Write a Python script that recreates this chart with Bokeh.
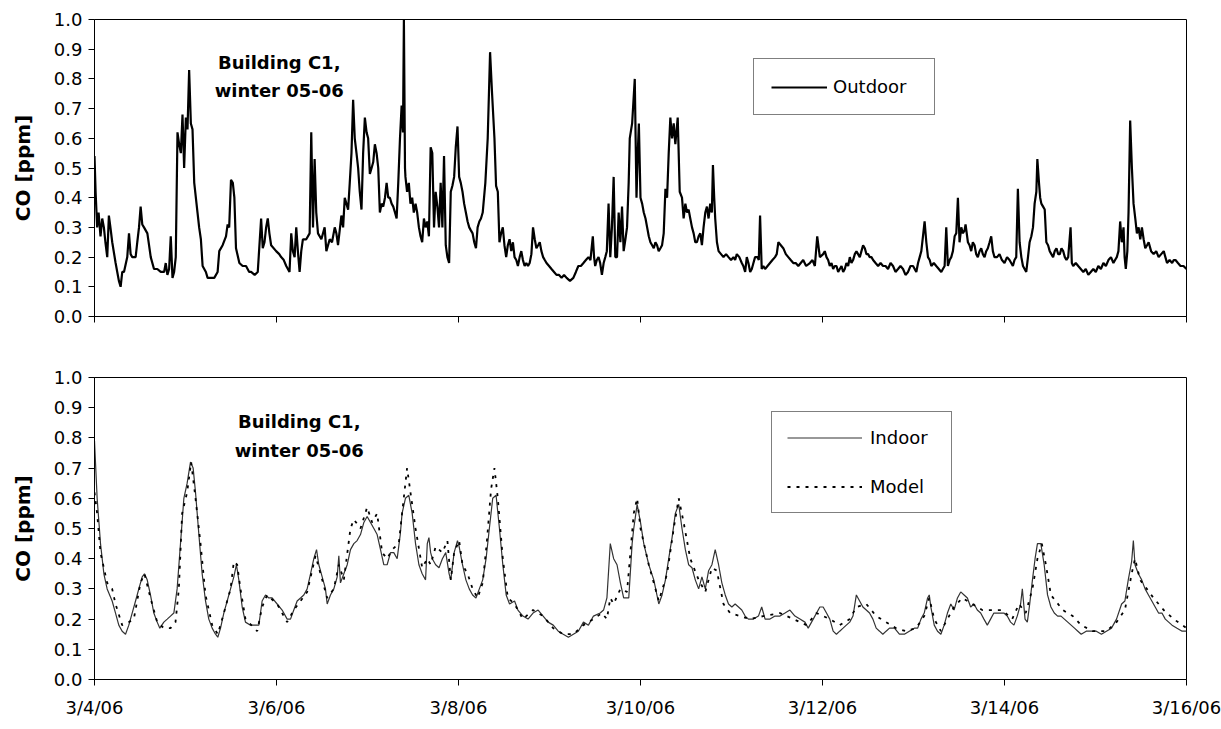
from bokeh.plotting import figure
from bokeh.models import (Range1d, FixedTicker, Legend, LegendItem, Label, PrintfTickFormatter,
                          CustomJSTickFormatter)
from bokeh.layouts import column
from bokeh.embed import file_html
from bokeh.resources import INLINE

FONT = "DejaVu Sans"

# x in days since 3/4/06 00:00
tick_days = [0, 2, 4, 6, 8, 10, 12]
tick_labels = ["3/4/06", "3/6/06", "3/8/06", "3/10/06", "3/12/06", "3/14/06", "3/16/06"]
y_ticks = [0.0, 0.1, 0.2, 0.3, 0.4, 0.5, 0.6, 0.7, 0.8, 0.9, 1.0]

outdoor = [
    (0.0, 0.54), (0.012, 0.42), (0.029, 0.30), (0.045, 0.35), (0.066, 0.27), (0.085, 0.33), (0.103, 0.30),
    (0.120, 0.25), (0.140, 0.20), (0.158, 0.34), (0.175, 0.30), (0.195, 0.25), (0.232, 0.18), (0.250, 0.15),
    (0.268, 0.12), (0.287, 0.10), (0.305, 0.15), (0.324, 0.15), (0.360, 0.20), (0.379, 0.28), (0.397, 0.21),
    (0.415, 0.20), (0.452, 0.20), (0.470, 0.25), (0.489, 0.30), (0.507, 0.37), (0.525, 0.31), (0.544, 0.30),
    (0.581, 0.28), (0.618, 0.20), (0.654, 0.16), (0.690, 0.16), (0.728, 0.15), (0.765, 0.15), (0.783, 0.18),
    (0.801, 0.14), (0.820, 0.16), (0.838, 0.27), (0.857, 0.13), (0.875, 0.15), (0.893, 0.20), (0.912, 0.62),
    (0.930, 0.58), (0.949, 0.55), (0.967, 0.68), (0.985, 0.50), (1.004, 0.67), (1.022, 0.63), (1.040, 0.83),
    (1.059, 0.65), (1.077, 0.63), (1.096, 0.45), (1.132, 0.35), (1.150, 0.30), (1.169, 0.26), (1.188, 0.17),
    (1.224, 0.15), (1.243, 0.13), (1.280, 0.13), (1.316, 0.13), (1.353, 0.15), (1.371, 0.22), (1.408, 0.24),
    (1.445, 0.27), (1.463, 0.31), (1.480, 0.30), (1.500, 0.46), (1.520, 0.45), (1.537, 0.40), (1.555, 0.23),
    (1.592, 0.18), (1.628, 0.17), (1.665, 0.17), (1.700, 0.15), (1.721, 0.15), (1.760, 0.14), (1.794, 0.15),
    (1.831, 0.33), (1.849, 0.23), (1.868, 0.25), (1.886, 0.30), (1.904, 0.33), (1.922, 0.28), (1.941, 0.24),
    (1.996, 0.22), (2.030, 0.21), (2.051, 0.20), (2.080, 0.19), (2.107, 0.17), (2.143, 0.15), (2.162, 0.28),
    (2.180, 0.22), (2.199, 0.20), (2.217, 0.30), (2.235, 0.22), (2.254, 0.15), (2.272, 0.22), (2.290, 0.26),
    (2.327, 0.26), (2.364, 0.28), (2.382, 0.62), (2.401, 0.30), (2.419, 0.53), (2.437, 0.35), (2.456, 0.28),
    (2.493, 0.26), (2.529, 0.30), (2.548, 0.22), (2.585, 0.26), (2.610, 0.25), (2.640, 0.30), (2.658, 0.28),
    (2.676, 0.24), (2.713, 0.34), (2.732, 0.30), (2.750, 0.40), (2.768, 0.38), (2.787, 0.36), (2.805, 0.45),
    (2.824, 0.55), (2.842, 0.73), (2.860, 0.60), (2.879, 0.55), (2.897, 0.50), (2.915, 0.42), (2.934, 0.36),
    (2.952, 0.55), (2.971, 0.67), (2.990, 0.62), (3.007, 0.60), (3.026, 0.48), (3.045, 0.50), (3.063, 0.52),
    (3.081, 0.58), (3.100, 0.55), (3.118, 0.50), (3.136, 0.35), (3.155, 0.38), (3.173, 0.37), (3.192, 0.40),
    (3.210, 0.45), (3.228, 0.40), (3.246, 0.40), (3.265, 0.38), (3.283, 0.37), (3.302, 0.35), (3.320, 0.33),
    (3.338, 0.45), (3.357, 0.60), (3.375, 0.71), (3.390, 0.62), (3.400, 1.00), (3.412, 0.50),
    (3.417, 0.47), (3.435, 0.42), (3.454, 0.45), (3.472, 0.38), (3.491, 0.40), (3.509, 0.35), (3.528, 0.38),
    (3.546, 0.35), (3.565, 0.30), (3.583, 0.27), (3.601, 0.25), (3.620, 0.33), (3.638, 0.30), (3.657, 0.32),
    (3.675, 0.27), (3.694, 0.57), (3.712, 0.55), (3.731, 0.30), (3.749, 0.42), (3.768, 0.37), (3.786, 0.30),
    (3.804, 0.45), (3.823, 0.30), (3.841, 0.54), (3.860, 0.24), (3.878, 0.20), (3.897, 0.18), (3.915, 0.42),
    (3.933, 0.44), (3.952, 0.47), (3.970, 0.57), (3.989, 0.64), (4.007, 0.47), (4.025, 0.45), (4.044, 0.42),
    (4.062, 0.38), (4.081, 0.35), (4.100, 0.32), (4.118, 0.30), (4.136, 0.29), (4.155, 0.28), (4.173, 0.25),
    (4.192, 0.23), (4.210, 0.30), (4.229, 0.32), (4.247, 0.33), (4.266, 0.35), (4.295, 0.45), (4.321, 0.60),
    (4.347, 0.89), (4.369, 0.75), (4.395, 0.60), (4.413, 0.44), (4.432, 0.42), (4.450, 0.25), (4.468, 0.28),
    (4.487, 0.30), (4.505, 0.24), (4.524, 0.20), (4.542, 0.24), (4.561, 0.26), (4.580, 0.22), (4.598, 0.25),
    (4.616, 0.20), (4.635, 0.19), (4.653, 0.17), (4.672, 0.20), (4.690, 0.22), (4.708, 0.19), (4.727, 0.17),
    (4.745, 0.18), (4.764, 0.17), (4.782, 0.18), (4.801, 0.21), (4.819, 0.30), (4.838, 0.26), (4.856, 0.23),
    (4.875, 0.24), (4.893, 0.25), (4.911, 0.22), (4.930, 0.20), (4.948, 0.19), (4.967, 0.18), (4.995, 0.17),
    (5.022, 0.16), (5.050, 0.15), (5.077, 0.14), (5.105, 0.14), (5.133, 0.13), (5.160, 0.14), (5.188, 0.13),
    (5.225, 0.12), (5.262, 0.13), (5.290, 0.15), (5.317, 0.17), (5.345, 0.17), (5.373, 0.18), (5.400, 0.19),
    (5.428, 0.20), (5.450, 0.19), (5.476, 0.27), (5.490, 0.20), (5.502, 0.17), (5.520, 0.19), (5.539, 0.20),
    (5.557, 0.18), (5.576, 0.14), (5.595, 0.18), (5.613, 0.20), (5.630, 0.22), (5.649, 0.38), (5.668, 0.20),
    (5.686, 0.30), (5.705, 0.47), (5.723, 0.20), (5.742, 0.20), (5.760, 0.35), (5.779, 0.25), (5.797, 0.37),
    (5.815, 0.22), (5.834, 0.26), (5.852, 0.30), (5.870, 0.45), (5.882, 0.60), (5.908, 0.65), (5.937, 0.80),
    (5.956, 0.40), (5.970, 0.55), (5.982, 0.65), (6.000, 0.40), (6.018, 0.38), (6.036, 0.35), (6.055, 0.33),
    (6.073, 0.30), (6.091, 0.27), (6.109, 0.25), (6.128, 0.24), (6.146, 0.23), (6.164, 0.25), (6.182, 0.24),
    (6.200, 0.22), (6.219, 0.23), (6.237, 0.24), (6.255, 0.28), (6.274, 0.43), (6.292, 0.40), (6.310, 0.55),
    (6.328, 0.67), (6.347, 0.60), (6.365, 0.65), (6.383, 0.58), (6.409, 0.67), (6.431, 0.42), (6.456, 0.40),
    (6.474, 0.33), (6.493, 0.38), (6.511, 0.35), (6.529, 0.36), (6.547, 0.33), (6.566, 0.30), (6.584, 0.28),
    (6.602, 0.25), (6.620, 0.25), (6.639, 0.27), (6.657, 0.28), (6.675, 0.24), (6.693, 0.30), (6.712, 0.35),
    (6.730, 0.37), (6.748, 0.33), (6.766, 0.38), (6.784, 0.35), (6.796, 0.51), (6.810, 0.40), (6.821, 0.33),
    (6.840, 0.25), (6.858, 0.22), (6.885, 0.21), (6.912, 0.20), (6.940, 0.21), (6.967, 0.20), (6.995, 0.19),
    (7.022, 0.20), (7.040, 0.19), (7.058, 0.21), (7.086, 0.20), (7.113, 0.18), (7.130, 0.17), (7.150, 0.15),
    (7.168, 0.20), (7.186, 0.18), (7.205, 0.15), (7.223, 0.16), (7.241, 0.18), (7.259, 0.20), (7.285, 0.20),
    (7.300, 0.19), (7.314, 0.34), (7.332, 0.16), (7.350, 0.17), (7.369, 0.16), (7.396, 0.17), (7.423, 0.18),
    (7.450, 0.19), (7.478, 0.20), (7.497, 0.21), (7.515, 0.25), (7.542, 0.24), (7.569, 0.23), (7.597, 0.21),
    (7.624, 0.20), (7.651, 0.19), (7.679, 0.18), (7.706, 0.18), (7.734, 0.17), (7.761, 0.18), (7.788, 0.19),
    (7.820, 0.17), (7.861, 0.18), (7.890, 0.19), (7.916, 0.17), (7.942, 0.27), (7.971, 0.20),
    (8.007, 0.21), (8.025, 0.22), (8.044, 0.20), (8.062, 0.19), (8.080, 0.17), (8.099, 0.18), (8.117, 0.16),
    (8.135, 0.17), (8.154, 0.17), (8.172, 0.15), (8.190, 0.16), (8.209, 0.17), (8.227, 0.15), (8.245, 0.16),
    (8.263, 0.18), (8.282, 0.17), (8.300, 0.20), (8.318, 0.18), (8.336, 0.19), (8.355, 0.21), (8.373, 0.22),
    (8.391, 0.21), (8.410, 0.20), (8.428, 0.22), (8.446, 0.24), (8.465, 0.23), (8.483, 0.21), (8.501, 0.21),
    (8.519, 0.20), (8.538, 0.20), (8.556, 0.19), (8.583, 0.18), (8.611, 0.17), (8.638, 0.18), (8.665, 0.17),
    (8.693, 0.17), (8.720, 0.16), (8.748, 0.18), (8.775, 0.17), (8.802, 0.15), (8.830, 0.16), (8.857, 0.17),
    (8.885, 0.16), (8.912, 0.14), (8.940, 0.15), (8.967, 0.17), (8.995, 0.17), (9.013, 0.16), (9.031, 0.15),
    (9.050, 0.18), (9.068, 0.20), (9.086, 0.22), (9.104, 0.27), (9.122, 0.32), (9.141, 0.25), (9.159, 0.20),
    (9.178, 0.19), (9.196, 0.17), (9.223, 0.18), (9.250, 0.17), (9.278, 0.16), (9.305, 0.15), (9.323, 0.16),
    (9.342, 0.17), (9.360, 0.30), (9.378, 0.17), (9.397, 0.19), (9.415, 0.20), (9.433, 0.22), (9.452, 0.27),
    (9.470, 0.28), (9.488, 0.40), (9.506, 0.25), (9.525, 0.30), (9.543, 0.28), (9.561, 0.29), (9.572, 0.31),
    (9.598, 0.25), (9.616, 0.24), (9.634, 0.22), (9.652, 0.25), (9.671, 0.24), (9.689, 0.21), (9.707, 0.20),
    (9.726, 0.22), (9.744, 0.23), (9.762, 0.21), (9.781, 0.20), (9.799, 0.22), (9.817, 0.23), (9.836, 0.25),
    (9.854, 0.27), (9.872, 0.22), (9.890, 0.20), (9.918, 0.20), (9.945, 0.21), (9.972, 0.19), (10.000, 0.18),
    (10.028, 0.20), (10.055, 0.19), (10.074, 0.18), (10.092, 0.17), (10.110, 0.19), (10.129, 0.20),
    (10.147, 0.43), (10.166, 0.25), (10.185, 0.20), (10.203, 0.17), (10.221, 0.16), (10.239, 0.15),
    (10.258, 0.20), (10.276, 0.25), (10.295, 0.27), (10.313, 0.30), (10.331, 0.38), (10.350, 0.42),
    (10.361, 0.53), (10.379, 0.45), (10.392, 0.40), (10.405, 0.38), (10.424, 0.37), (10.442, 0.36),
    (10.460, 0.25), (10.479, 0.24), (10.497, 0.22), (10.515, 0.21), (10.534, 0.20), (10.552, 0.22),
    (10.571, 0.23), (10.590, 0.21), (10.608, 0.21), (10.626, 0.23), (10.645, 0.22), (10.663, 0.20),
    (10.681, 0.19), (10.700, 0.20), (10.726, 0.30), (10.740, 0.18), (10.755, 0.17), (10.783, 0.18),
    (10.810, 0.17), (10.838, 0.16), (10.866, 0.15), (10.893, 0.16), (10.921, 0.14), (10.948, 0.15),
    (10.976, 0.16), (11.003, 0.15), (11.031, 0.17), (11.059, 0.16), (11.087, 0.18), (11.114, 0.17),
    (11.142, 0.19), (11.170, 0.20), (11.197, 0.18), (11.215, 0.19), (11.234, 0.20), (11.252, 0.22),
    (11.271, 0.32), (11.289, 0.25), (11.308, 0.30), (11.320, 0.20), (11.333, 0.16), (11.350, 0.22),
    (11.363, 0.35), (11.381, 0.66), (11.400, 0.50), (11.418, 0.38), (11.437, 0.33), (11.455, 0.28),
    (11.474, 0.30), (11.492, 0.26), (11.510, 0.30), (11.529, 0.26), (11.547, 0.23), (11.566, 0.24),
    (11.584, 0.25), (11.611, 0.22), (11.639, 0.21), (11.667, 0.22), (11.694, 0.20), (11.722, 0.21),
    (11.750, 0.22), (11.768, 0.20), (11.786, 0.18), (11.814, 0.19), (11.842, 0.18), (11.860, 0.19),
    (11.879, 0.19), (11.906, 0.18), (11.934, 0.17), (11.967, 0.17), (12.000, 0.16),
]

indoor = [
    (0.000, 0.79), (0.029, 0.60), (0.066, 0.45), (0.103, 0.35), (0.139, 0.30), (0.194, 0.26), (0.231, 0.22),
    (0.267, 0.18), (0.304, 0.16), (0.341, 0.15), (0.377, 0.18), (0.414, 0.22), (0.451, 0.26), (0.487, 0.30),
    (0.524, 0.34), (0.549, 0.35), (0.579, 0.33), (0.615, 0.28), (0.652, 0.22), (0.689, 0.19), (0.718, 0.17),
    (0.762, 0.19), (0.799, 0.20), (0.835, 0.21), (0.872, 0.22), (0.908, 0.30), (0.945, 0.45), (0.982, 0.60),
    (1.018, 0.65), (1.055, 0.72), (1.084, 0.70), (1.110, 0.62), (1.147, 0.48), (1.183, 0.35), (1.220, 0.26),
    (1.256, 0.20), (1.293, 0.17), (1.330, 0.15), (1.355, 0.14), (1.385, 0.17), (1.421, 0.22), (1.458, 0.26),
    (1.495, 0.30), (1.531, 0.34), (1.560, 0.38), (1.586, 0.33), (1.623, 0.24), (1.659, 0.19), (1.714, 0.18),
    (1.769, 0.18), (1.806, 0.18), (1.842, 0.26), (1.879, 0.28), (1.916, 0.27), (1.952, 0.27), (2.007, 0.25),
    (2.062, 0.23), (2.117, 0.20), (2.154, 0.20), (2.190, 0.23), (2.227, 0.26), (2.264, 0.27), (2.300, 0.28),
    (2.337, 0.30), (2.374, 0.35), (2.410, 0.40), (2.440, 0.43), (2.465, 0.38), (2.502, 0.34), (2.538, 0.30),
    (2.557, 0.25), (2.593, 0.28), (2.630, 0.30), (2.667, 0.34), (2.685, 0.41), (2.703, 0.32), (2.740, 0.35),
    (2.777, 0.38), (2.813, 0.43), (2.850, 0.45), (2.886, 0.46), (2.923, 0.48), (2.960, 0.52), (2.996, 0.54),
    (3.033, 0.52), (3.070, 0.50), (3.106, 0.48), (3.143, 0.43), (3.179, 0.38), (3.216, 0.38), (3.253, 0.42),
    (3.289, 0.42), (3.326, 0.40), (3.360, 0.48), (3.380, 0.55), (3.417, 0.60), (3.454, 0.61), (3.491, 0.55),
    (3.528, 0.45), (3.565, 0.38), (3.601, 0.35), (3.638, 0.33), (3.657, 0.45), (3.675, 0.47), (3.694, 0.42),
    (3.712, 0.40), (3.749, 0.38), (3.786, 0.37), (3.823, 0.40), (3.860, 0.42), (3.897, 0.35), (3.915, 0.33),
    (3.952, 0.42), (3.989, 0.46), (4.007, 0.44), (4.044, 0.38), (4.081, 0.33), (4.118, 0.30), (4.155, 0.28),
    (4.192, 0.27), (4.229, 0.30), (4.266, 0.33), (4.303, 0.40), (4.339, 0.50), (4.376, 0.60), (4.413, 0.61),
    (4.450, 0.50), (4.487, 0.38), (4.524, 0.28), (4.561, 0.25), (4.616, 0.26), (4.653, 0.23), (4.708, 0.21),
    (4.764, 0.20), (4.819, 0.22), (4.875, 0.23), (4.930, 0.21), (4.985, 0.19), (5.041, 0.18), (5.096, 0.16),
    (5.151, 0.15), (5.207, 0.14), (5.262, 0.15), (5.317, 0.16), (5.373, 0.19), (5.428, 0.18), (5.483, 0.21),
    (5.557, 0.22), (5.594, 0.23), (5.631, 0.27), (5.668, 0.45), (5.705, 0.40), (5.742, 0.38), (5.779, 0.32),
    (5.815, 0.27), (5.871, 0.27), (5.908, 0.45), (5.926, 0.50), (5.963, 0.58), (6.000, 0.52), (6.036, 0.45),
    (6.091, 0.38), (6.146, 0.33), (6.201, 0.25), (6.237, 0.28), (6.274, 0.33), (6.310, 0.40), (6.347, 0.47),
    (6.383, 0.55), (6.420, 0.58), (6.456, 0.50), (6.493, 0.43), (6.529, 0.38), (6.566, 0.37), (6.602, 0.33),
    (6.639, 0.30), (6.675, 0.34), (6.712, 0.30), (6.748, 0.36), (6.785, 0.38), (6.821, 0.43), (6.858, 0.38),
    (6.894, 0.32), (6.931, 0.28), (6.967, 0.25), (7.004, 0.24), (7.040, 0.25), (7.077, 0.24), (7.113, 0.23),
    (7.150, 0.21), (7.186, 0.20), (7.241, 0.20), (7.296, 0.21), (7.332, 0.24), (7.369, 0.20), (7.423, 0.20),
    (7.478, 0.21), (7.533, 0.21), (7.588, 0.22), (7.642, 0.23), (7.697, 0.21), (7.752, 0.20), (7.807, 0.19),
    (7.843, 0.17), (7.898, 0.20), (7.971, 0.24), (8.007, 0.24), (8.044, 0.22), (8.080, 0.20), (8.117, 0.16),
    (8.153, 0.15), (8.189, 0.16), (8.226, 0.17), (8.262, 0.18), (8.299, 0.19), (8.335, 0.21), (8.372, 0.28),
    (8.408, 0.26), (8.444, 0.24), (8.481, 0.23), (8.517, 0.22), (8.554, 0.20), (8.590, 0.17), (8.627, 0.16),
    (8.663, 0.15), (8.699, 0.16), (8.736, 0.17), (8.791, 0.17), (8.845, 0.15), (8.900, 0.15), (8.954, 0.16),
    (9.009, 0.17), (9.046, 0.17), (9.082, 0.20), (9.118, 0.22), (9.155, 0.27), (9.173, 0.28), (9.191, 0.24),
    (9.228, 0.18), (9.264, 0.16), (9.301, 0.15), (9.337, 0.18), (9.373, 0.22), (9.410, 0.25), (9.446, 0.23),
    (9.483, 0.27), (9.519, 0.29), (9.556, 0.28), (9.592, 0.27), (9.628, 0.24), (9.665, 0.25), (9.701, 0.23),
    (9.738, 0.22), (9.774, 0.20), (9.811, 0.18), (9.847, 0.20), (9.883, 0.22), (9.938, 0.22), (9.993, 0.22),
    (10.030, 0.21), (10.067, 0.19), (10.104, 0.18), (10.140, 0.21), (10.177, 0.25), (10.196, 0.30),
    (10.226, 0.20), (10.251, 0.19), (10.277, 0.25), (10.307, 0.33), (10.336, 0.40), (10.362, 0.45),
    (10.399, 0.45), (10.436, 0.38), (10.473, 0.28), (10.510, 0.24), (10.547, 0.22), (10.584, 0.21),
    (10.621, 0.21), (10.658, 0.20), (10.695, 0.19), (10.732, 0.18), (10.769, 0.17), (10.806, 0.16),
    (10.843, 0.15), (10.898, 0.16), (10.954, 0.16), (11.009, 0.16), (11.065, 0.15), (11.120, 0.16),
    (11.176, 0.17), (11.231, 0.20), (11.287, 0.25), (11.323, 0.26), (11.360, 0.33), (11.397, 0.39),
    (11.416, 0.46), (11.434, 0.38), (11.471, 0.35), (11.508, 0.33), (11.545, 0.30), (11.582, 0.28),
    (11.619, 0.26), (11.656, 0.24), (11.693, 0.22), (11.730, 0.22), (11.767, 0.20), (11.804, 0.19),
    (11.841, 0.18), (11.896, 0.17), (11.952, 0.16), (12.000, 0.16),
]

model = [
    (0.000, 0.62), (0.029, 0.55), (0.066, 0.42), (0.139, 0.32), (0.194, 0.30), (0.231, 0.25), (0.304, 0.18),
    (0.377, 0.19), (0.432, 0.20), (0.505, 0.32), (0.549, 0.35), (0.615, 0.27), (0.689, 0.19), (0.762, 0.17),
    (0.835, 0.17), (0.890, 0.19), (0.927, 0.30), (0.963, 0.55), (1.018, 0.62), (1.062, 0.72), (1.110, 0.60),
    (1.165, 0.45), (1.220, 0.28), (1.293, 0.18), (1.355, 0.15), (1.403, 0.20), (1.495, 0.30), (1.531, 0.39),
    (1.568, 0.38), (1.604, 0.30), (1.659, 0.20), (1.788, 0.16), (1.842, 0.24), (1.897, 0.28), (2.007, 0.25),
    (2.117, 0.19), (2.190, 0.23), (2.264, 0.26), (2.337, 0.29), (2.429, 0.41), (2.484, 0.35), (2.557, 0.27),
    (2.630, 0.30), (2.685, 0.38), (2.740, 0.33), (2.813, 0.50), (2.850, 0.53), (2.923, 0.50), (2.996, 0.57),
    (3.051, 0.52), (3.106, 0.55), (3.161, 0.42), (3.216, 0.40), (3.271, 0.43), (3.344, 0.45), (3.380, 0.55),
    (3.435, 0.70), (3.472, 0.62), (3.528, 0.50), (3.601, 0.37), (3.657, 0.40), (3.694, 0.38), (3.749, 0.44),
    (3.823, 0.42), (3.878, 0.46), (3.915, 0.33), (3.952, 0.42), (4.007, 0.46), (4.044, 0.38), (4.100, 0.35),
    (4.155, 0.30), (4.210, 0.27), (4.266, 0.32), (4.310, 0.45), (4.358, 0.63), (4.395, 0.70), (4.432, 0.60),
    (4.487, 0.40), (4.542, 0.27), (4.616, 0.25), (4.708, 0.20), (4.819, 0.23), (4.930, 0.21), (5.041, 0.17),
    (5.151, 0.15), (5.262, 0.15), (5.373, 0.18), (5.483, 0.20), (5.576, 0.22), (5.631, 0.20), (5.668, 0.27),
    (5.705, 0.25), (5.779, 0.30), (5.852, 0.29), (5.926, 0.55), (5.963, 0.60), (6.000, 0.50), (6.091, 0.38),
    (6.201, 0.26), (6.292, 0.35), (6.365, 0.50), (6.420, 0.60), (6.474, 0.52), (6.547, 0.40), (6.639, 0.33),
    (6.712, 0.29), (6.785, 0.37), (6.839, 0.36), (6.912, 0.25), (6.985, 0.22), (7.095, 0.21), (7.204, 0.20),
    (7.350, 0.21), (7.533, 0.22), (7.679, 0.20), (7.825, 0.18), (7.934, 0.22), (8.080, 0.20), (8.189, 0.18),
    (8.299, 0.20), (8.372, 0.24), (8.481, 0.25), (8.590, 0.21), (8.699, 0.19), (8.809, 0.17), (8.918, 0.16),
    (9.027, 0.17), (9.118, 0.21), (9.173, 0.27), (9.228, 0.20), (9.301, 0.16), (9.373, 0.20), (9.446, 0.24),
    (9.537, 0.27), (9.647, 0.25), (9.756, 0.23), (9.865, 0.23), (9.974, 0.23), (10.085, 0.20), (10.159, 0.25),
    (10.233, 0.22), (10.307, 0.30), (10.362, 0.40), (10.410, 0.45), (10.455, 0.38), (10.510, 0.28),
    (10.640, 0.23), (10.750, 0.21), (10.843, 0.18), (10.972, 0.16), (11.120, 0.16), (11.231, 0.19),
    (11.323, 0.23), (11.397, 0.35), (11.434, 0.40), (11.490, 0.33), (11.564, 0.30), (11.638, 0.27),
    (11.749, 0.23), (11.860, 0.20), (12.000, 0.17),
]

out_t, out_v = [list(a) for a in zip(*outdoor)]
in_t, in_v = [list(a) for a in zip(*indoor)]
mod_t, mod_v = [list(a) for a in zip(*model)]


def make_fig(height, top, bottom, show_xlabels):
    p = figure(width=1221, height=height, output_backend="svg", toolbar_location=None,
               x_range=Range1d(0, 12), y_range=Range1d(0, 1),
               min_border_left=94, min_border_right=35, min_border_top=top, min_border_bottom=bottom)
    p.grid.visible = False
    p.outline_line_color = "black"
    p.outline_line_width = 1
    p.background_fill_color = "white"
    p.border_fill_color = "white"
    p.xaxis.ticker = FixedTicker(ticks=tick_days)
    p.yaxis.ticker = FixedTicker(ticks=y_ticks)
    p.yaxis.formatter = PrintfTickFormatter(format="%.1f")
    for ax in (p.xaxis, p.yaxis):
        ax.axis_line_color = "black"
        ax.major_tick_line_color = "black"
        ax.minor_tick_line_color = None
        ax.major_tick_in = 0
        ax.major_tick_out = 6
        ax.major_label_text_font = FONT
        ax.major_label_text_font_size = "18px"
        ax.major_label_text_color = "black"
    p.yaxis.major_label_standoff = 6
    if show_xlabels:
        p.xaxis.major_label_overrides = {d: l for d, l in zip(tick_days, tick_labels)}
        p.xaxis.major_label_standoff = 11
    else:
        # top panel: tick marks only, no tick labels
        p.xaxis.formatter = CustomJSTickFormatter(code="return '';")
        p.xaxis.major_label_standoff = 0
    p.yaxis.axis_label = "CO [ppm]"
    p.yaxis.axis_label_text_font = FONT
    p.yaxis.axis_label_text_font_style = "bold"
    p.yaxis.axis_label_text_font_size = "20px"
    p.yaxis.axis_label_text_color = "black"
    p.yaxis.axis_label_standoff = 16
    return p


def add_title(p, x, y1, y2):
    for yy, txt in ((y1, "Building C1,"), (y2, "winter 05-06")):
        p.add_layout(Label(x=x, y=yy, text=txt, text_align="center", text_baseline="middle",
                           text_font=FONT, text_font_style="bold", text_font_size="18px",
                           text_color="black"))


def style_legend(lg):
    lg.border_line_color = "black"
    lg.border_line_width = 1
    lg.background_fill_color = "white"
    lg.background_fill_alpha = 1
    lg.label_text_font = FONT
    lg.label_text_font_size = "18px"
    lg.label_text_color = "black"
    lg.margin = 0


# Top panel: outdoor
p1 = make_fig(345, 19, 29, False)
r_out = p1.line(out_t, out_v, line_color="black", line_width=2.2)
add_title(p1, 2.03, 0.855, 0.76)
lg1 = Legend(items=[LegendItem(label="Outdoor", renderers=[r_out])], location=(659, 201))
style_legend(lg1)
lg1.padding = 17
lg1.glyph_width = 56
lg1.glyph_height = 20
lg1.label_standoff = 6
lg1.label_width = 84
p1.add_layout(lg1)

# Bottom panel: indoor vs model
p2 = make_fig(384, 32, 50, True)
r_in = p2.line(in_t, in_v, line_color="#333333", line_width=1.2)
r_mod = p2.line(mod_t, mod_v, line_color="black", line_width=1.8, line_dash="3 6")
add_title(p2, 2.25, 0.854, 0.758)
lg2 = Legend(items=[LegendItem(label="Indoor", renderers=[r_in]),
                    LegendItem(label="Model", renderers=[r_mod])], location=(677, 166))
style_legend(lg2)
lg2.padding = 15
lg2.glyph_width = 75
lg2.glyph_height = 21
lg2.spacing = 28
lg2.label_standoff = 8
lg2.label_width = 66
p2.add_layout(lg2)

layout = column(p1, p2, spacing=0)
open("out.html", "w").write(file_html(layout, INLINE))
